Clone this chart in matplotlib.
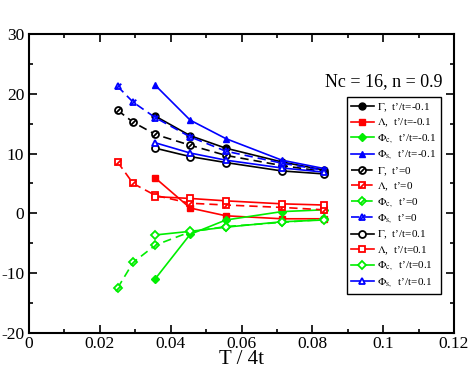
import matplotlib
matplotlib.use("Agg")
import matplotlib.pyplot as plt
from matplotlib.ticker import MultipleLocator, FuncFormatter
from matplotlib.legend_handler import HandlerTuple

plt.rcParams['font.family'] = ['Liberation Serif', 'DejaVu Serif']
plt.rcParams['mathtext.fontset'] = 'stix'

# T / 4t values
T_long = [0.025, 0.0294, 0.0357, 0.0455, 0.0556, 0.0714, 0.0833]
T_short = [0.0357, 0.0455, 0.0556, 0.0714, 0.0833]

# t'/t = -0.1 (solid, filled)
gamma_m = [16.25, 13.0, 10.9, 8.6, 7.25]
lam_m = [5.9, 0.9, -0.4, -0.9, -0.9]
phic_m = [-10.9, -3.5, -1.1, 0.3, 0.6]
phis_m = [21.4, 15.6, 12.5, 8.9, 7.5]

# t' = 0 (dashed, slashed markers)
gamma_0 = [17.25, 15.25, 13.2, 11.4, 9.7, 8.0, 7.0]
lam_0 = [8.6, 5.0, 3.0, 1.7, 1.4, 1.0, 0.6]
phic_0 = [-12.5, -8.2, -5.3, -3.1, -2.2, -1.5, -1.0]
phis_0 = [21.25, 18.6, 16.0, 12.8, 10.4, 8.4, 7.2]

# t'/t = 0.1 (solid, open)
gamma_p = [10.9, 9.5, 8.5, 7.1, 6.6]
lam_p = [2.8, 2.5, 2.1, 1.6, 1.4]
phic_p = [-3.6, -3.0, -2.3, -1.4, -1.1]
phis_p = [11.8, 10.1, 8.9, 7.6, 6.9]

colors = ['black', '#ff0000', '#00ee00', '#0000ff']
markers = ['o', 's', 'D', '^']
names = [r'$\Gamma$,', r'$\Lambda$,', r'$\Phi_{\rm c,}$', r'$\Phi_{\rm s,}$']

fig = plt.figure(figsize=(4.71, 3.71), dpi=100)
ax = fig.add_axes([29/471, 1-333/371, (454-29)/471, (333-34)/371])

slash = [(-1, -1), (1, 1)]
handles = []
labels = []

for name, c, m, y in zip(names, colors, markers, [gamma_m, lam_m, phic_m, phis_m]):
    h, = ax.plot(T_short, y, color=c, marker=m, ms=5 if m != 'D' else 4.2,
                 lw=1.2, mfc=c, mec=c)
    handles.append(h)
    labels.append(name + "  t\u2019/t=-0.1")

for name, c, m, y in zip(names, colors, markers, [gamma_0, lam_0, phic_0, phis_0]):
    h1, = ax.plot(T_long, y, color=c, marker=m, ms=5 if m != 'D' else 4.2,
                  lw=1.2, ls=(0, (5, 3)), mfc='white', mec=c, mew=1.3)
    h2, = ax.plot(T_long, y, ls='none', marker=slash, ms=4, mec=c, mew=1.3)
    handles.append((h1, h2))
    labels.append(name + "  t\u2019=0")

for name, c, m, y in zip(names, colors, markers, [gamma_p, lam_p, phic_p, phis_p]):
    h, = ax.plot(T_short, y, color=c, marker=m, ms=5 if m != 'D' else 4.2,
                 lw=1.2, mfc='white', mec=c, mew=1.3)
    handles.append(h)
    labels.append(name + "  t\u2019/t=0.1")

ax.set_xlim(0, 0.12)
ax.set_ylim(-20, 30)
ax.xaxis.set_major_locator(MultipleLocator(0.02))
ax.xaxis.set_minor_locator(MultipleLocator(0.01))
ax.yaxis.set_major_locator(MultipleLocator(10))
ax.yaxis.set_minor_locator(MultipleLocator(5))
fmt = FuncFormatter(lambda v, p: '%g' % round(v, 4))
ax.xaxis.set_major_formatter(fmt)
ax.yaxis.set_major_formatter(fmt)
ax.tick_params(which='both', direction='in', top=True, right=True, width=1.2,
               labelsize=12.5)
ax.tick_params(axis='x', pad=2)
ax.tick_params(which='major', length=6)
ax.tick_params(which='minor', length=3)
for s in ax.spines.values():
    s.set_linewidth(1.5)

ax.set_xlabel('T / 4t', fontsize=15, labelpad=-1)

ax.text(0.972, 0.84, 'Nc = 16, n = 0.9', transform=ax.transAxes,
        ha='right', va='center', fontsize=13)

leg = ax.legend(handles, labels, loc='upper left', bbox_to_anchor=(0.748, 0.79),
                fontsize=8, frameon=True, fancybox=False, edgecolor='black',
                framealpha=1, handlelength=2.0, handletextpad=0.3,
                borderpad=0.4, labelspacing=0.27, borderaxespad=0,
                handler_map={tuple: HandlerTuple(ndivide=1)})
leg.get_frame().set_linewidth(1.0)

fig.savefig('out.png', dpi=100)
